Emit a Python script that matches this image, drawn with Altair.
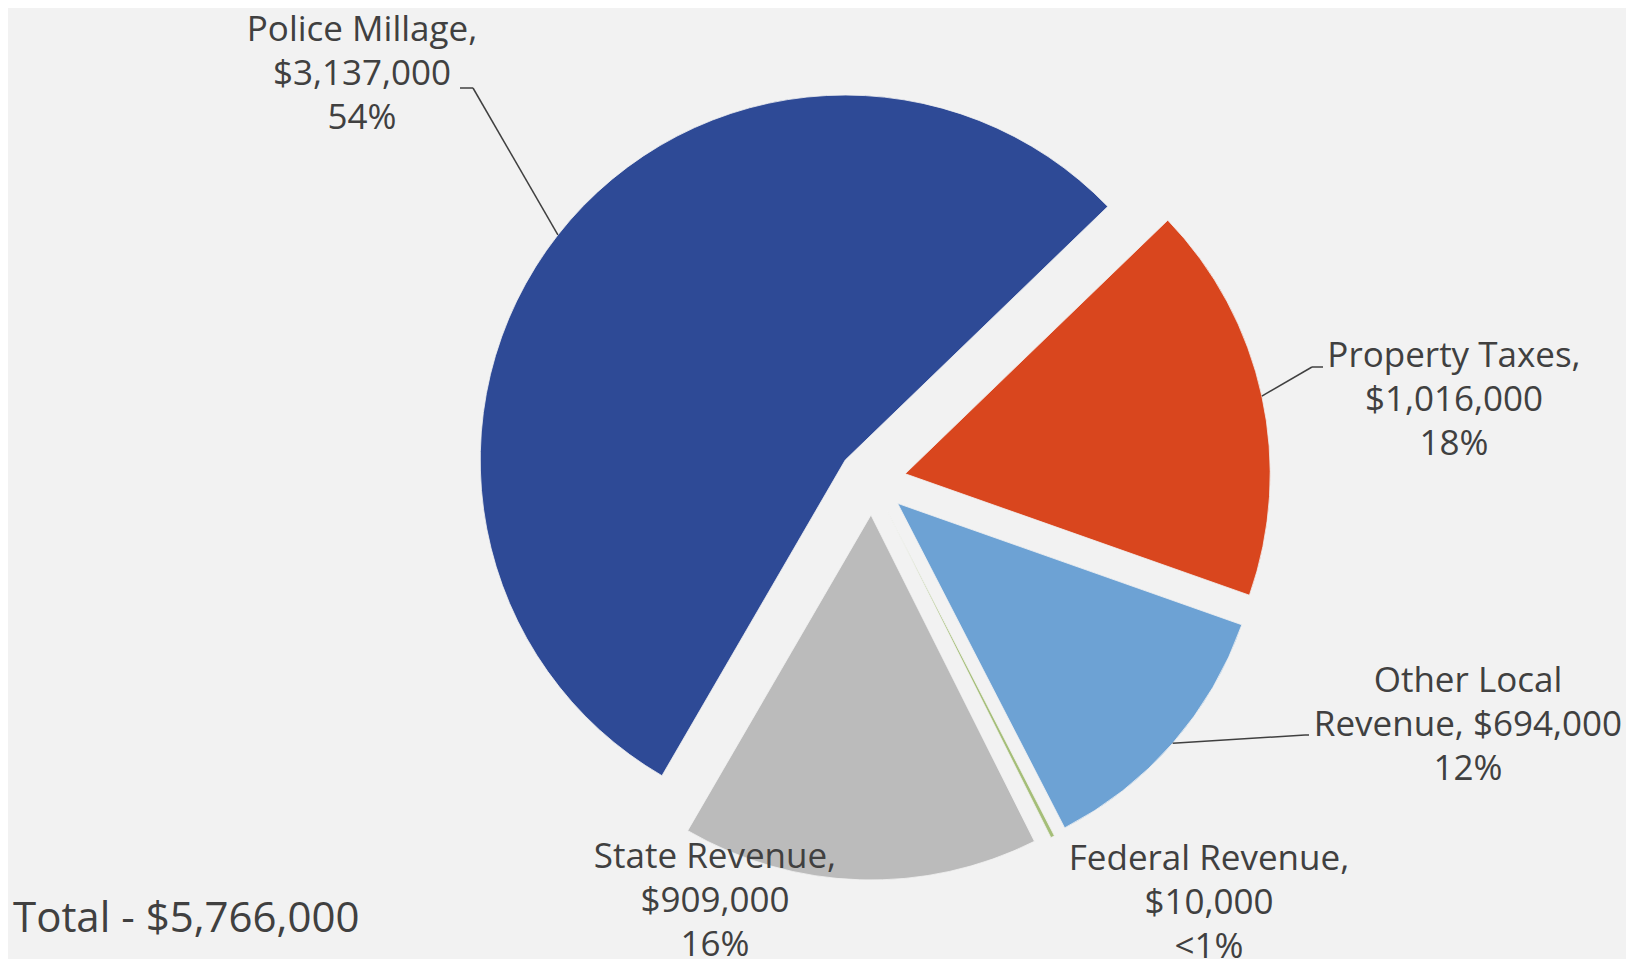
import math
import altair as alt
import pandas as pd

# ---------------- data ----------------
categories = ["Property Taxes", "Other Local Revenue", "Federal Revenue", "State Revenue", "Police Millage"]
values = [1016000, 694000, 10000, 909000, 3137000]
percent_labels = ["18%", "12%", "<1%", "16%", "54%"]
colors = ["#D9461E", "#6DA2D4", "#A5BE78", "#BBBBBB", "#2E4A96"]

# ---------------- layout ----------------
FONT = "Open Sans"
TEXT_COLOR = "#404040"
BG = "#F2F2F2"
START = math.radians(46)      # start angle of the first slice (clockwise from 12 o'clock)
CX, CY = 864, 473            # pie centre (px)
R = 365                      # radius
EXPLODE = 34                 # explode distance
# words on the first line of each label
first_line_words = {"Property Taxes": 2, "Other Local Revenue": 2, "Federal Revenue": 2,
                    "State Revenue": 2, "Police Millage": 2}
label_pos = {"Property Taxes": (1446, 359), "Other Local Revenue": (1460, 684),
             "Federal Revenue": (1201, 862), "State Revenue": (707, 860),
             "Police Millage": (354, 33)}
leader = {"Property Taxes": ((1304, 359), (1315, 359)),
          "Other Local Revenue": ((1297, 727), (1301, 727)),
          "Police Millage": ((465, 80), (452, 80))}

rows = []
for i, (c, v, p) in enumerate(zip(categories, values, percent_labels)):
    words = f"{c}, ${v:,}".split(" ")
    k = first_line_words[c]
    label = " ".join(words[:k]) + "|" + " ".join(words[k:]) + "|" + p
    lx, ly = label_pos[c]
    row = dict(category=c, value=v, order=i, label=label, lx=lx, ly=ly)
    if c in leader:
        (ex, ey), (fx, fy) = leader[c]
        row.update(ex=ex, ey=ey, fx=fx, fy=fy)
    rows.append(row)
df = pd.DataFrame(rows)

base = (
    alt.Chart(df)
    .transform_joinaggregate(total="sum(value)")
    .transform_window(cum="sum(value)", sort=[alt.SortField("order", order="ascending")], frame=[None, 0])
    .transform_calculate(
        t0=f"{START} + 2*PI*(datum.cum - datum.value)/datum.total",
        t1=f"{START} + 2*PI*datum.cum/datum.total",
    )
    .transform_calculate(tm="(datum.t0 + datum.t1)/2")
    .transform_calculate(
        cx=f"{CX} + {EXPLODE}*sin(datum.tm)",
        cy=f"{CY} - {EXPLODE}*cos(datum.tm)",
    )
    .transform_calculate(
        ax=f"datum.cx + {R}*sin(datum.tm)",
        ay=f"datum.cy - {R}*cos(datum.tm)",
    )
)

arcs = base.mark_arc(outerRadius=R, stroke=BG, strokeWidth=0.8).encode(
    theta=alt.Theta("t0:Q", scale=None, stack=None),
    theta2="t1:Q",
    x=alt.X("cx:Q", scale=None),
    y=alt.Y("cy:Q", scale=None),
    color=alt.Color("category:N", scale=alt.Scale(domain=categories, range=colors), legend=None),
)

lead = base.transform_filter("isValid(datum.ex)")
rule1 = lead.mark_rule(color=TEXT_COLOR, strokeWidth=1.5).encode(
    x=alt.X("ax:Q", scale=None), y=alt.Y("ay:Q", scale=None),
    x2="ex:Q", y2="ey:Q",
)
rule2 = lead.mark_rule(color=TEXT_COLOR, strokeWidth=1.5).encode(
    x=alt.X("ex:Q", scale=None), y=alt.Y("ey:Q", scale=None),
    x2="fx:Q", y2="fy:Q",
)

labels = (
    alt.Chart(df)
    .transform_calculate(lines="split(datum.label, '|')")
    .mark_text(font=FONT, fontSize=35, color=TEXT_COLOR, align="center",
               baseline="alphabetic", lineHeight=44)
    .encode(x=alt.X("lx:Q", scale=None), y=alt.Y("ly:Q", scale=None), text="lines:N")
)

total = (
    alt.Chart(df)
    .transform_aggregate(total="sum(value)")
    .transform_calculate(txt="'Total - $' + format(datum.total, ',')")
    .mark_text(font=FONT, fontSize=42, color=TEXT_COLOR, align="left", baseline="alphabetic")
    .encode(x=alt.value(5), y=alt.value(924), text="txt:N")
)

chart = (
    alt.layer(arcs, rule1, rule2, labels, total)
    .properties(width=1618, height=951, background=BG, padding=0,
                autosize=alt.AutoSizeParams(type="none"))
    .configure_view(stroke="transparent")
)

chart.save("out.html", embed_options={"renderer": "svg", "actions": False})
